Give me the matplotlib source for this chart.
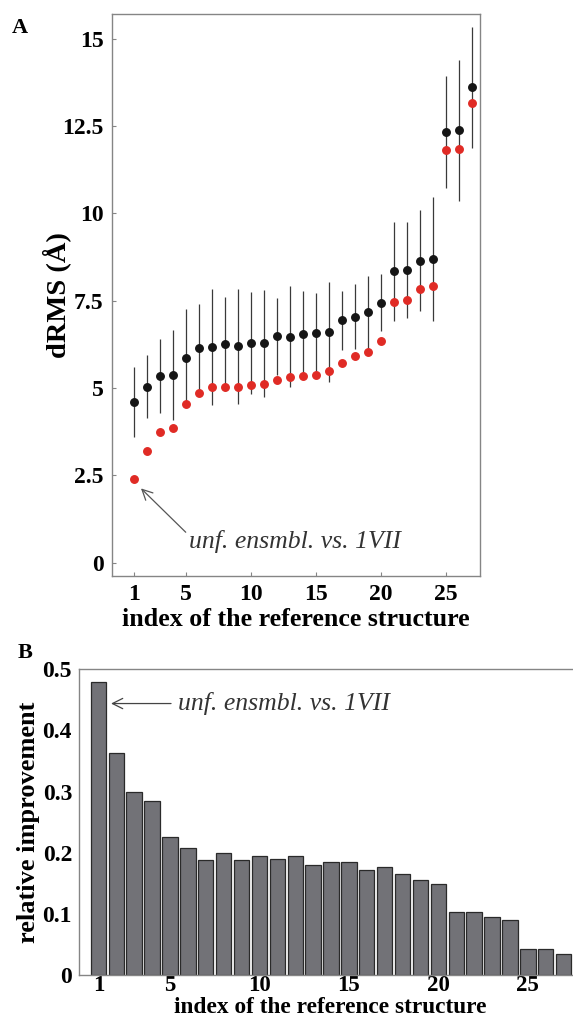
import numpy as np
import matplotlib
matplotlib.use('Agg')
import matplotlib.pyplot as plt

plt.rcParams['font.family'] = ['Liberation Serif', 'DejaVu Serif']
plt.rcParams['mathtext.fontset'] = 'stix'

# panel A: dRMS per reference structure
idx = np.arange(1, 28)
black_mean = [4.60, 5.04, 5.36, 5.38, 5.86, 6.16, 6.19, 6.26, 6.20, 6.28, 6.28, 6.48, 6.47, 6.54,
              6.59, 6.62, 6.94, 7.05, 7.17, 7.45, 8.34, 8.39, 8.65, 8.70, 12.33, 12.38, 13.61]
black_err = [1.00, 0.90, 1.06, 1.29, 1.41, 1.26, 1.66, 1.34, 1.65, 1.46, 1.53, 1.10, 1.44, 1.24,
             1.13, 1.43, 0.84, 0.93, 1.05, 0.82, 1.43, 1.38, 1.45, 1.78, 1.60, 2.02, 1.73]
red_vals = [2.39, 3.20, 3.75, 3.85, 4.54, 4.87, 5.03, 5.03, 5.03, 5.08, 5.11, 5.23, 5.32, 5.34,
            5.37, 5.48, 5.73, 5.91, 6.04, 6.36, 7.48, 7.53, 7.84, 7.92, 11.81, 11.86, 13.16]

# panel B: relative improvement
improvement = [0.479, 0.363, 0.300, 0.284, 0.225, 0.208, 0.188, 0.199, 0.188, 0.194, 0.189,
               0.194, 0.180, 0.185, 0.185, 0.172, 0.176, 0.165, 0.156, 0.149, 0.103, 0.103,
               0.095, 0.090, 0.043, 0.042, 0.034]

a_yticks = [0, 2.5, 5, 7.5, 10, 12.5, 15]
a_yticklabels = ['0', '2.5', '5', '7.5', '10', '12.5', '15']
xticks = [1, 5, 10, 15, 20, 25]
b_yticks = [0, 0.1, 0.2, 0.3, 0.4, 0.5]
b_yticklabels = ['0', '0.1', '0.2', '0.3', '0.4', '0.5']
note = 'unf. ensmbl. vs. 1VII'

frame = '#858585'
fig = plt.figure(figsize=(5.73, 10.27), dpi=100)

# ---- A ----
ax = fig.add_axes([0.1955, 0.4394, 0.642, 0.5473])
ax.errorbar(idx, black_mean, yerr=black_err, fmt='none', ecolor='#3a3a3a', elinewidth=0.9, capsize=0)
ax.plot(idx, black_mean, 'o', color='#151515', markersize=5.4, zorder=3)
ax.plot(idx, red_vals, 'o', color='#e02b25', markersize=5.4, zorder=3)
ax.set_xlim(-0.69, 27.64)
ax.set_ylim(-0.37, 15.72)
ax.set_xticks(xticks)
ax.set_yticks(a_yticks)
ax.set_yticklabels(a_yticklabels)
ax.tick_params(direction='in', length=3, width=0.8, color=frame, labelsize=17, pad=6)
for lab in ax.get_xticklabels() + ax.get_yticklabels():
    lab.set_fontweight('bold')
for s in ax.spines.values():
    s.set_color(frame)
    s.set_linewidth(1.0)
ax.set_ylabel('dRMS (Å)', fontsize=20.5, fontweight='bold', labelpad=-6)
ax.set_xlabel('index of the reference structure', fontsize=18.7, fontweight='bold', labelpad=2)
ax.annotate(note, xy=(1.54, 2.13), xytext=(5.2, 0.6), fontsize=18.5, style='italic',
            color='#333333', va='center', ha='left',
            arrowprops=dict(arrowstyle='->', color='#555555', lw=0.9, shrinkA=0, shrinkB=0,
                            relpos=(0.0, 0.8)))
fig.text(20 / 573, 1 - 28 / 1027, 'A', fontsize=16, fontweight='bold', ha='center', va='center')

# ---- B ----
bx = fig.add_axes([0.1379, 0.0506, 0.877, 0.2977])
bx.bar(idx, improvement, width=0.86, color='#727277', edgecolor='#2a2a2a', linewidth=0.9)
bx.set_xlim(-0.08, 28)
bx.set_ylim(0, 0.5)
bx.set_xticks(xticks)
bx.set_yticks(b_yticks)
bx.set_yticklabels(b_yticklabels)
bx.tick_params(direction='in', length=0)
bx.tick_params(axis='x', pad=0, labelsize=16.5)
bx.tick_params(axis='y', pad=5, labelsize=17)
for lab in bx.get_xticklabels() + bx.get_yticklabels():
    lab.set_fontweight('bold')
for s in bx.spines.values():
    s.set_color(frame)
    s.set_linewidth(1.0)
bx.spines['right'].set_visible(False)
bx.set_ylabel('relative improvement', fontsize=19, fontweight='bold', labelpad=2)
bx.set_xlabel('index of the reference structure', fontsize=16.8, fontweight='bold', labelpad=0.5)
bx.annotate(note, xy=(1.71, 0.444), xytext=(5.45, 0.444), fontsize=18.5, style='italic',
            color='#333333', va='center', ha='left',
            arrowprops=dict(arrowstyle='->', color='#444444', lw=0.9, shrinkA=3, shrinkB=0))
fig.text(25 / 573, 1 - 653 / 1027, 'B', fontsize=16, fontweight='bold', ha='center', va='center')

fig.savefig('out.png', dpi=100)
